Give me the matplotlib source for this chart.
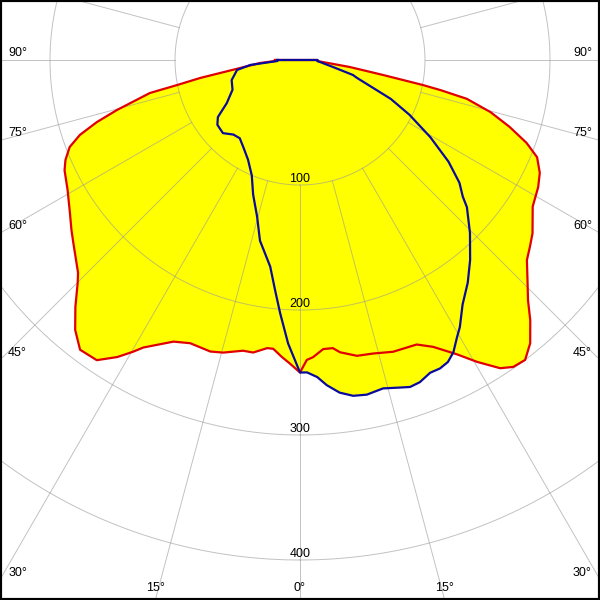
import numpy as np
import matplotlib.pyplot as plt

# luminous intensity curves, gamma in degrees (0 = straight down, negative = left half)
red_gamma = [-90, -87.7, -85.7, -79.8, -78.5, -77.6, -74.7, -73.0, -71.2, -69.3,
             -66.9, -64.9, -60.8, -56.4, -53.3, -51.1, -46.2, -44.9, -42.3, -39.8,
             -37.2, -34.1, -31.6, -29.8, -28.6, -24.2, -21.2, -17.1, -14.7, -11.1,
             -9.1, -6.5, -5.3, -3.5, -1.9, 0,
             1.3, 2.5, 4.6, 6.5, 7.8, 10.9, 14.0, 17.7, 22.3, 24.9,
             28.1, 30.4, 33.0, 34.8, 36.9, 39.1, 41.5, 43.5, 46.0, 48.6,
             50.9, 53.3, 57.8, 61.9, 64.8, 67.7, 69.9, 72.3, 74.7, 76.9,
             77.9, 78.5, 79.8, 82.0, 86.6, 90]
red_cd = [20, 20, 32, 81, 100, 123, 152, 170, 186, 197,
          204, 208, 213, 221, 228, 233, 246, 252, 267, 281,
          291, 290, 279, 269, 262, 247, 243, 244, 242, 237,
          237, 232, 232, 238, 243, 250,
          240, 238, 232, 232, 236, 241, 242, 245, 246, 253,
          267, 280, 294, 299, 300, 292, 278, 265, 253, 242,
          237, 232, 220, 216, 212, 205, 193, 176, 158, 137,
          115, 100, 67, 40, 14, 14]

blue_gamma = [-90, -87.5, -84.3, -81.0, -73.6, -66.2, -59.5, -55.2, -51.9, -46.5,
              -41.8, -37.6, -33.2, -27.5, -22.7, -19.2, -15.3, -12.5, -8.2, -6.2,
              -4.5, -2.4, 0,
              1.3, 3.1, 4.7, 6.8, 9.0, 11.3, 14.2, 17.0, 18.6, 20.4,
              22.6, 24.4, 26.1, 27.7, 29.5, 30.9, 33.6, 37.0, 40.4, 44.5,
              48.6, 50.0, 52.4, 55.6, 59.4, 63.4, 66.8, 72.5, 74.2, 78.0,
              86.6, 90]
blue_cd = [18, 18, 40, 51, 57, 59, 68, 80, 84, 85,
           80, 79, 83, 90, 100, 114, 130, 148, 167, 185,
           203, 227, 250,
           250, 254, 261, 268, 272, 273, 271, 274, 276, 275,
           271, 271, 269, 264, 255, 249, 235, 223, 210, 194,
           178, 170, 161, 144, 121, 98, 79, 48, 44, 27,
           14, 14]

rings = [100, 200, 300, 400]
spoke_angles = np.arange(0, 360, 15)
angle_labels = [0, 15, 30, 45, 60, 75, 90]

col_red = "#e00000"
col_blue = "#0a0a9c"
col_fill = "#ffff00"
col_grid = "#999999"
fs = 9


def to_xy(gamma, r):
    g = np.radians(np.asarray(gamma, dtype=float))
    r = np.asarray(r, dtype=float)
    return r * np.sin(g), -r * np.cos(g)


fig = plt.figure(figsize=(6, 6), dpi=100)
ax = fig.add_axes([0, 0, 1, 1])
xmin, xmax, ymin, ymax = -240, 240, -432, 48
ax.set_xlim(xmin, xmax)
ax.set_ylim(ymin, ymax)
ax.set_aspect("equal")
ax.set_xticks([])
ax.set_yticks([])
for s in ax.spines.values():
    s.set_linewidth(3)
    s.set_color("black")

rx, ry = to_xy(red_gamma, red_cd)
bx, by = to_xy(blue_gamma, blue_cd)
ax.fill(rx, ry, color=col_fill, lw=0, zorder=1)
ax.fill(bx, by, color=col_fill, lw=0, zorder=1)

# grid: rings and spokes starting at the first ring
t = np.linspace(0, 360, 721)
for r in rings:
    cx, cy = to_xy(t, np.full_like(t, r))
    ax.plot(cx, cy, color=col_grid, lw=0.7, alpha=0.6, zorder=2)
    ax.text(0, -r + 5, str(r), ha="center", va="center", fontsize=fs,
            family="Liberation Sans", zorder=5)
for a in spoke_angles:
    sx, sy = to_xy([a, a], [rings[0], 700])
    ax.plot(sx, sy, color=col_grid, lw=0.7, alpha=0.6, zorder=2)

ax.plot(np.append(rx, rx[0]), np.append(ry, ry[0]), color=col_red, lw=1.6,
        solid_joinstyle="round", zorder=3)
ax.plot(np.append(bx, bx[0]), np.append(by, by[0]), color=col_blue, lw=1.6,
        solid_joinstyle="round", zorder=4)

# angle labels where the spokes leave the frame
for a in angle_labels:
    for side in ([1] if a == 0 else [-1, 1]):
        g = np.radians(a)
        if a > 0 and np.tan(g) * (-ymin) > xmax:
            yh = -xmax / np.tan(g)
            x = side * (xmax - 6.5)
            ax.text(x, yh + 5.6, f"{a}°", ha="left" if side < 0 else "right",
                    va="center", fontsize=fs, family="Liberation Sans", zorder=5)
        else:
            xh = side * (-ymin) * np.tan(g)
            ax.text(xh, ymin + 9.6, f"{a}°", ha="center", va="center",
                    fontsize=fs, family="Liberation Sans", zorder=5)

fig.savefig("out.png", dpi=100)
